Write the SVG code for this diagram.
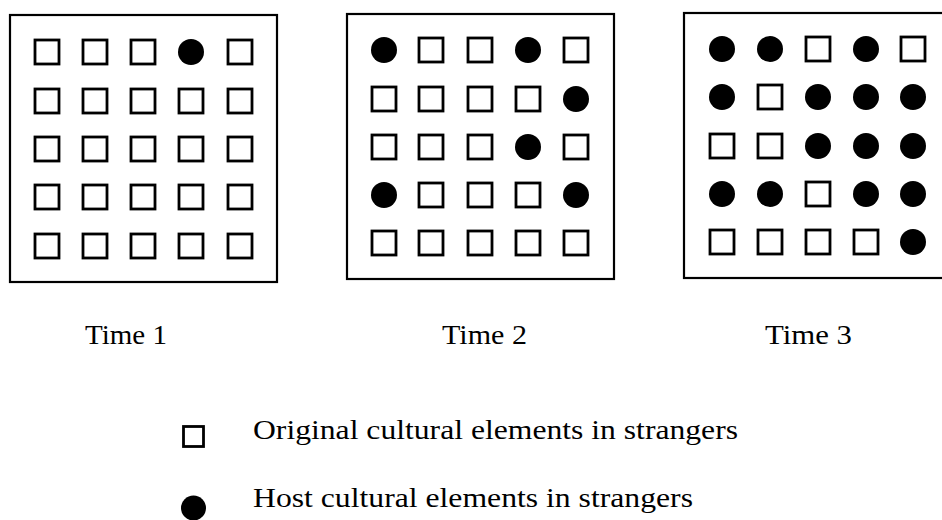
<svg xmlns="http://www.w3.org/2000/svg" xmlns:xlink="http://www.w3.org/1999/xlink" width="942" height="520" viewBox="0 0 942 520">
<style>
.frame{fill:none;stroke:#000;stroke-width:2.2}
.sq{fill:#fff;stroke:#000;stroke-width:2.8}
.dot{fill:#000}
.lbl{font-family:"Liberation Serif","Times New Roman",serif;font-size:28px;fill:#000}
.leg{font-family:"Liberation Serif","Times New Roman",serif;font-size:27px;fill:#000}
</style>
<defs>
<rect id="S" class="sq" x="-12" y="-12" width="24" height="24"/>
<circle id="C" class="dot" r="13"/>
</defs>
<rect width="942" height="520" fill="#fff"/>
<g id="time1">
<rect class="frame" x="10" y="15" width="267" height="267"/>
<use href="#S" x="47" y="52"/><use href="#S" x="95" y="52"/><use href="#S" x="143" y="52"/><use href="#C" x="191" y="52"/><use href="#S" x="240" y="52"/>
<use href="#S" x="47" y="101"/><use href="#S" x="95" y="101"/><use href="#S" x="143" y="101"/><use href="#S" x="191" y="101"/><use href="#S" x="240" y="101"/>
<use href="#S" x="47" y="149"/><use href="#S" x="95" y="149"/><use href="#S" x="143" y="149"/><use href="#S" x="191" y="149"/><use href="#S" x="240" y="149"/>
<use href="#S" x="47" y="197"/><use href="#S" x="95" y="197"/><use href="#S" x="143" y="197"/><use href="#S" x="191" y="197"/><use href="#S" x="240" y="197"/>
<use href="#S" x="47" y="246"/><use href="#S" x="95" y="246"/><use href="#S" x="143" y="246"/><use href="#S" x="191" y="246"/><use href="#S" x="240" y="246"/>
<text class="lbl" x="85" y="344" textLength="82" lengthAdjust="spacingAndGlyphs">Time 1</text>
</g>
<g id="time2">
<rect class="frame" x="347" y="14" width="267" height="265"/>
<use href="#C" x="384" y="50"/><use href="#S" x="431" y="50"/><use href="#S" x="480" y="50"/><use href="#C" x="528" y="50"/><use href="#S" x="576" y="50"/>
<use href="#S" x="384" y="99"/><use href="#S" x="431" y="99"/><use href="#S" x="480" y="99"/><use href="#S" x="528" y="99"/><use href="#C" x="576" y="99"/>
<use href="#S" x="384" y="147"/><use href="#S" x="431" y="147"/><use href="#S" x="480" y="147"/><use href="#C" x="528" y="147"/><use href="#S" x="576" y="147"/>
<use href="#C" x="384" y="195"/><use href="#S" x="431" y="195"/><use href="#S" x="480" y="195"/><use href="#S" x="528" y="195"/><use href="#C" x="576" y="195"/>
<use href="#S" x="384" y="243"/><use href="#S" x="431" y="243"/><use href="#S" x="480" y="243"/><use href="#S" x="528" y="243"/><use href="#S" x="576" y="243"/>
<text class="lbl" x="442" y="344" textLength="85" lengthAdjust="spacingAndGlyphs">Time 2</text>
</g>
<g id="time3">
<rect class="frame" x="684" y="13" width="270" height="265"/>
<use href="#C" x="722" y="49"/><use href="#C" x="770" y="49"/><use href="#S" x="818" y="49"/><use href="#C" x="866" y="49"/><use href="#S" x="913" y="49"/>
<use href="#C" x="722" y="97"/><use href="#S" x="770" y="97"/><use href="#C" x="818" y="97"/><use href="#C" x="866" y="97"/><use href="#C" x="913" y="97"/>
<use href="#S" x="722" y="146"/><use href="#S" x="770" y="146"/><use href="#C" x="818" y="146"/><use href="#C" x="866" y="146"/><use href="#C" x="913" y="146"/>
<use href="#C" x="722" y="194"/><use href="#C" x="770" y="194"/><use href="#S" x="818" y="194"/><use href="#C" x="866" y="194"/><use href="#C" x="913" y="194"/>
<use href="#S" x="722" y="242"/><use href="#S" x="770" y="242"/><use href="#S" x="818" y="242"/><use href="#S" x="866" y="242"/><use href="#C" x="913" y="242"/>
<text class="lbl" x="765" y="344" textLength="87" lengthAdjust="spacingAndGlyphs">Time 3</text>
</g>
<g id="legend-original">
<rect class="sq" x="183.5" y="426.5" width="20" height="20"/>
<text class="leg" x="253" y="439" textLength="485" lengthAdjust="spacingAndGlyphs">Original cultural elements in strangers</text>
</g>
<g id="legend-host">
<circle class="dot" cx="193.5" cy="508" r="12.5"/>
<text class="leg" x="253" y="507" textLength="440" lengthAdjust="spacingAndGlyphs">Host cultural elements in strangers</text>
</g>
<g id="connectors"/>
</svg>
